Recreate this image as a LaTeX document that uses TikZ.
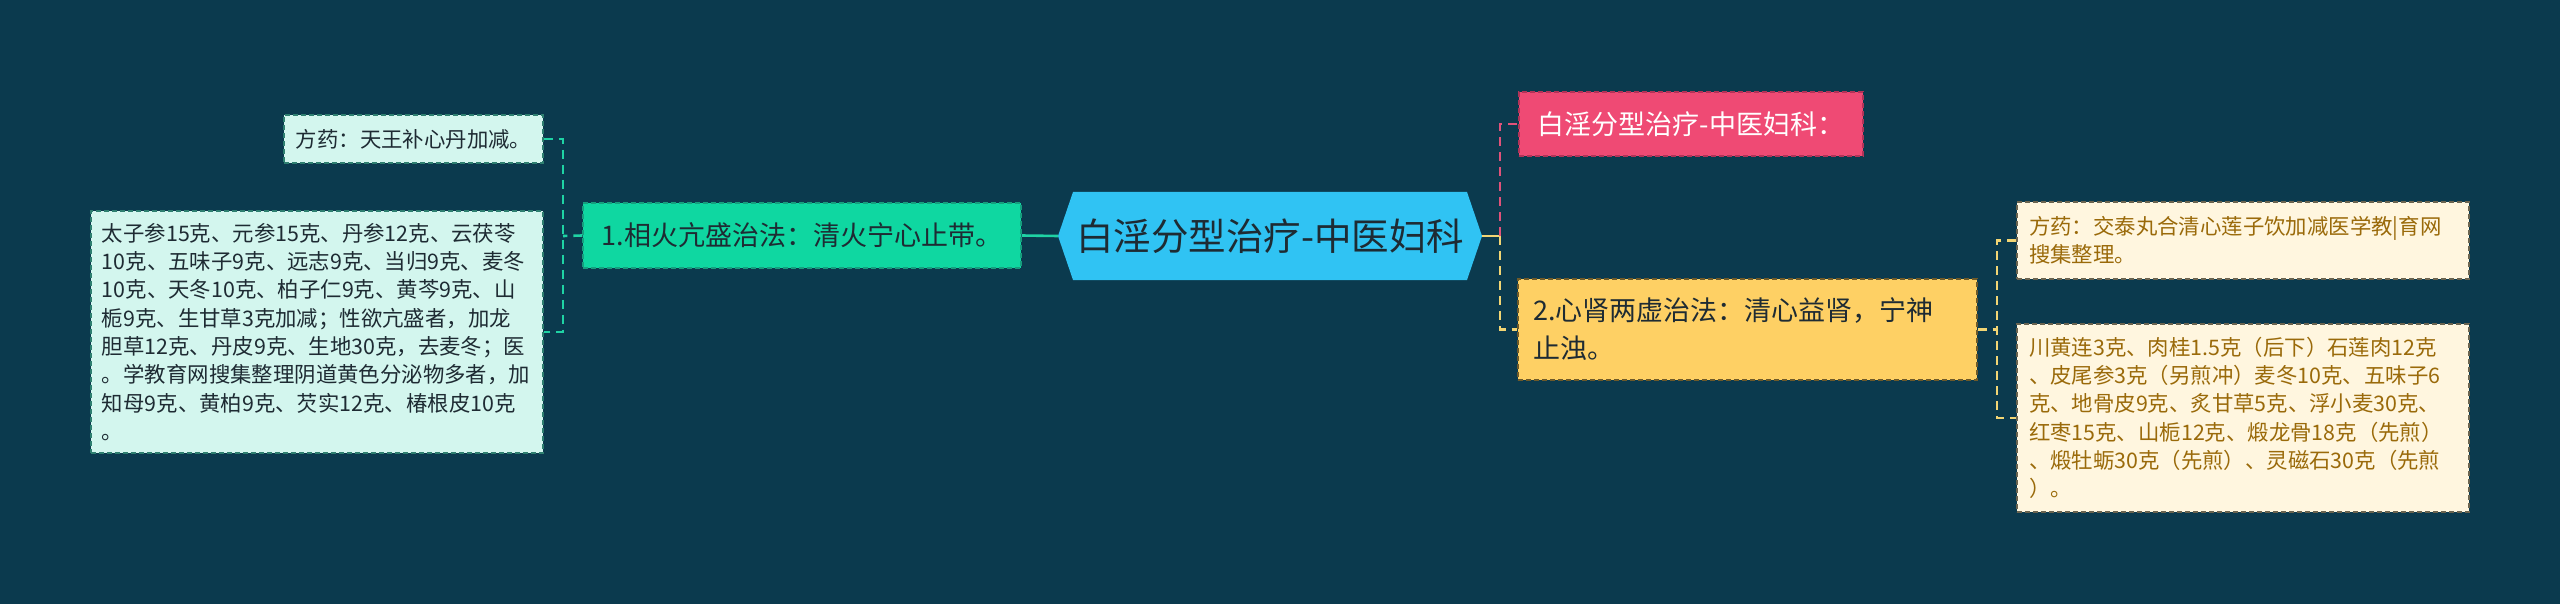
\documentclass[tikz,border=0pt]{standalone}
\usepackage{fontspec}
\setmainfont{Noto Sans CJK SC}
\definecolor{bgc}{HTML}{0B3A4E}
\definecolor{hexc}{HTML}{30C3F3}
\definecolor{tealc}{HTML}{0FD7A1}
\definecolor{tealb}{HTML}{169E7E}
\definecolor{teall}{HTML}{1FD3A4}
\definecolor{mintc}{HTML}{D3F6EE}
\definecolor{mintb}{HTML}{2E7F70}
\definecolor{pinkc}{HTML}{EF4A74}
\definecolor{pinkb}{HTML}{B23358}
\definecolor{pinkl}{HTML}{E0527A}
\definecolor{yelc}{HTML}{FED064}
\definecolor{yelb}{HTML}{6E5A2A}
\definecolor{yell}{HTML}{F2D574}
\definecolor{creamc}{HTML}{FFF6DF}
\definecolor{creamb}{HTML}{6A6450}
\definecolor{creamt}{HTML}{9A6A0A}
\definecolor{darkt}{HTML}{1E2B33}
\newcommand\rootfont{\fontsize{37.5bp}{44bp}\selectfont}
\newcommand\midfont{\fontsize{27bp}{38bp}\selectfont}
\newcommand\leaffont{\fontsize{21.4bp}{28.3bp}\selectfont}
\begin{document}
\begin{tikzpicture}[x=1bp,y=-1bp,
  basebox/.style={rectangle, inner sep=0pt, align=left, line width=1.3bp, dash pattern=on 5bp off 3bp},
  rootnode/.style={rectangle, inner sep=0pt, align=center, text=darkt, font=\rootfont},
  tealbox/.style={basebox, fill=tealc, draw=tealb, text=darkt, font=\midfont},
  mintbox/.style={basebox, fill=mintc, draw=mintb, text=darkt, font=\leaffont},
  pinkbox/.style={basebox, fill=pinkc, draw=pinkb, text=white, font=\midfont},
  yelbox/.style={basebox, fill=yelc, draw=yelb, text=darkt, font=\midfont},
  creambox/.style={basebox, fill=creamc, draw=creamb, text=creamt, font=\leaffont},
  conn/.style={line width=2.6bp},
  dconn/.style={conn, dash pattern=on 9bp off 6bp}
]
\fill[bgc] (0,0) rectangle (2560,604);
\useasboundingbox (0,0) rectangle (2560,604);
% root hexagon
\fill[hexc] (1058,236) -- (1073,192) -- (1467,192) -- (1482,236) -- (1467,280) -- (1073,280) -- cycle;
\node[rootnode, minimum width=394bp, minimum height=88bp] (root) at (1270,236) {白淫分型治疗-中医妇科};
\coordinate (rootL) at (1058,236);
\coordinate (rootR) at (1482,236);
% left branch
\node[tealbox, minimum width=438bp, minimum height=65bp] (n1) at (802,235.5) {1.相火亢盛治法：清火宁心止带。};
\node[mintbox, minimum width=259bp, minimum height=48bp] (L1) at (413.5,139) {方药：天王补心丹加减。};
\node[mintbox, minimum width=452bp, minimum height=242bp, text width=430bp] (L2) at (317,332) {太子参15克、元参15克、丹参12克、云茯苓\\10克、五味子9克、远志9克、当归9克、麦冬\\10克、天冬10克、柏子仁9克、黄芩9克、山\\栀9克、生甘草3克加减；性欲亢盛者，加龙\\胆草12克、丹皮9克、生地30克，去麦冬；医\\。学教育网搜集整理阴道黄色分泌物多者，加\\知母9克、黄柏9克、芡实12克、椿根皮10克\\。};
\coordinate (lb) at (563,236);
% right branch
\node[pinkbox, minimum width=344bp, minimum height=64bp] (p) at (1691,124) {白淫分型治疗-中医妇科：};
\node[yelbox, minimum width=459bp, minimum height=101bp, text width=429bp] (n2) at (1747.5,329.5) {2.心肾两虚治法：清心益肾，宁神\\止浊。};
\node[creambox, minimum width=452bp, minimum height=77bp, text width=428bp] (R1) at (2243,240.5) {方药：交泰丸合清心莲子饮加减医学教|育网\\搜集整理。};
\node[creambox, minimum width=452bp, minimum height=188bp, text width=428bp] (R2) at (2243,418) {川黄连3克、肉桂1.5克（后下）石莲肉12克\\、皮尾参3克（另煎冲）麦冬10克、五味子6\\克、地骨皮9克、炙甘草5克、浮小麦30克、\\红枣15克、山栀12克、煅龙骨18克（先煎）\\、煅牡蛎30克（先煎）、灵磁石30克（先煎\\）。};
\coordinate (rb) at (1500,236);
\coordinate (sb) at (1997,329.5);
% connectors
\draw[conn, teall] (n1.east) -- (rootL);
\draw[dconn, teall] (n1.west) -- (lb);
\draw[dconn, teall] (L1.east) -- (lb |- L1) -- (lb |- L2) -- (L2.east);
\draw[conn, yell] (rootR) -- (rb);
\draw[dconn, pinkl] (rb) -- (rb |- p) -- (p.west);
\draw[dconn, yell] (rb) -- (rb |- n2) -- (n2.west);
\draw[dconn, yell] (n2.east) -- (sb);
\draw[dconn, yell] (R1.west) -- (sb |- R1) -- (sb |- R2) -- (R2.west);
\end{tikzpicture}
\end{document}
